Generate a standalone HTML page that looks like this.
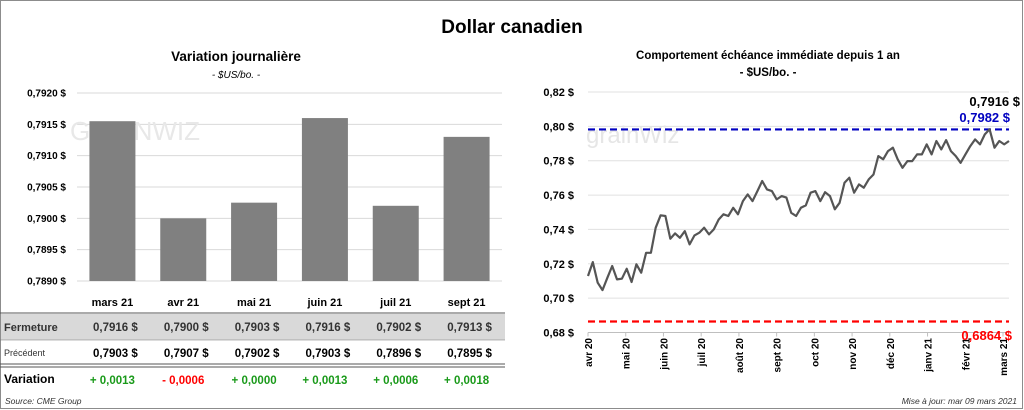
<!DOCTYPE html>
<html><head><meta charset="utf-8"><style>
body{margin:0;background:#fff}
svg{display:block;font-family:"Liberation Sans",sans-serif}
</style></head><body>
<svg id="s" width="1024" height="410" viewBox="0 0 1024 410" xmlns="http://www.w3.org/2000/svg">
<rect x="0.5" y="0.5" width="1022" height="408" fill="#fff" stroke="#8c8c8c"/>
<text x="512" y="33" text-anchor="middle" font-size="19" font-weight="bold">Dollar canadien</text>
<text x="236" y="61" text-anchor="middle" font-size="13.5" font-weight="bold">Variation  journalière</text>
<text x="236" y="78" text-anchor="middle" font-size="10" font-style="italic">- $US/bo. -</text>
<text x="768" y="59" text-anchor="middle" font-size="11.5" font-weight="bold">Comportement échéance immédiate depuis 1 an</text>
<text x="768" y="76" text-anchor="middle" font-size="11.5" font-weight="bold">- $US/bo. -</text>
<g id="left"></g>
<g id="table"></g>
<g id="right"></g>
<text x="5" y="404" font-size="8.5" font-style="italic" fill="#333">Source: CME Group</text>
<text x="1017" y="404" text-anchor="end" font-size="8.5" font-style="italic" fill="#333">Mise à jour: mar 09 mars 2021</text>
</svg>
<script>
const NS="http://www.w3.org/2000/svg";
const barCats=["mars 21","avr 21","mai 21","juin 21","juil 21","sept 21"];
const barVals=[0.79155,0.7900,0.79025,0.7916,0.7902,0.7913];
const barTicks=[0.7890,0.7895,0.7900,0.7905,0.7910,0.7915,0.7920];
const closeVals=["0,7916","0,7900","0,7903","0,7916","0,7902","0,7913"];
const prevVals=["0,7903","0,7907","0,7902","0,7903","0,7896","0,7895"];
const varVals=["+ 0,0013","- 0,0006","+ 0,0000","+ 0,0013","+ 0,0006","+ 0,0018"];
const lineVals=[0.7129,0.7210,0.7090,0.7047,0.7119,0.7187,0.7109,0.7113,0.7171,0.7094,0.7197,0.7148,0.7264,0.7264,0.7410,0.7482,0.7478,0.7346,0.7377,0.7351,0.7390,0.7313,0.7365,0.7381,0.7410,0.7371,0.7400,0.7458,0.7488,0.7478,0.7526,0.7488,0.7565,0.7604,0.7565,0.7623,0.7682,0.7633,0.7623,0.7575,0.7594,0.7585,0.7497,0.7478,0.7526,0.7540,0.7614,0.7623,0.7565,0.7617,0.7594,0.7517,0.7555,0.7672,0.7701,0.7614,0.7662,0.7643,0.7691,0.7720,0.7827,0.7808,0.7856,0.7876,0.7808,0.7759,0.7798,0.7798,0.7837,0.7837,0.7895,0.7837,0.7915,0.7866,0.7920,0.7856,0.7827,0.7788,0.7837,0.7885,0.7924,0.7895,0.7953,0.7983,0.7876,0.7915,0.7895,0.7915];
const lineTicks=[0.68,0.70,0.72,0.74,0.76,0.78,0.80,0.82];
const monthLabels=["avr 20","mai 20","juin 20","juil 20","août 20","sept 20","oct 20","nov 20","déc 20","janv 21","févr 21","mars 21"];
const highVal=0.7982, lowVal=0.6864, lastVal=0.7916;
function el(t,a,p,txt){const e=document.createElementNS(NS,t);for(const k in a)e.setAttribute(k,a[k]);if(txt!==undefined)e.textContent=txt;p.appendChild(e);return e;}
const fmt=(v,d)=>v.toFixed(d).replace('.',',')+' $';
// left chart
const L=document.getElementById('left');
const lx0=77,lx1=502,ly0=281,ly1=93;
const ly=v=>ly0+(v-0.7890)/(0.7920-0.7890)*(ly1-ly0);
const bw=(lx1-lx0)/barCats.length;
barTicks.forEach(t=>{
 const g=el('line',{x1:lx0,x2:lx1,y1:ly(t),y2:ly(t),stroke:'#d9d9d9'},L);
 
 const tx=el('text',{x:66,y:ly(t)+3.5,'text-anchor':'end','font-size':'10','font-weight':'bold'},L,fmt(t,4));
 
});
el('text',{x:70,y:140,'font-size':'26',fill:'#e8e8e8'},L,'GRAINWIZ');
barCats.forEach((c,i)=>{
 const cx=lx0+bw*(i+0.5);
 const r=el('rect',{x:cx-23,y:ly(barVals[i]),width:46,height:ly0-ly(barVals[i]),fill:'#808080'},L);
 
 const t=el('text',{x:cx,y:306,'text-anchor':'middle','font-size':'11','font-weight':'bold'},L,c);
 
});
// table
const T=document.getElementById('table');
el('line',{x1:0,x2:505,y1:313,y2:313,stroke:'#555'},T);
el('rect',{x:1,y:314,width:504,height:26,fill:'#d9d9d9'},T);
el('line',{x1:0,x2:505,y1:340,y2:340,stroke:'#777','stroke-width':0.6},T);
el('line',{x1:0,x2:505,y1:364,y2:364,stroke:'#555'},T);
el('line',{x1:0,x2:505,y1:367,y2:367,stroke:'#555'},T);
el('text',{x:4,y:331,'font-size':'11','font-weight':'bold',fill:'#333'},T,'Fermeture');
el('text',{x:4,y:356,'font-size':'9',fill:'#333'},T,'Précédent');
el('text',{x:4,y:383,'font-size':'12','font-weight':'bold'},T,'Variation');
barCats.forEach((c,i)=>{
 const cx=lx0+bw*(i+0.5);
 const a=el('text',{x:cx+3,y:331,'text-anchor':'middle','font-size':'11.5','font-weight':'bold',fill:'#333'},T,closeVals[i]+'  $');
 
 const b=el('text',{x:cx+3,y:357,'text-anchor':'middle','font-size':'11.5','font-weight':'bold'},T,prevVals[i]+'  $');
 
 const v=el('text',{x:cx,y:384,'text-anchor':'middle','font-size':'11.5','font-weight':'bold',fill:varVals[i][0]=='-'?'#ff0000':'#1a9a1a'},T,varVals[i]);
 
});
// right chart
const R=document.getElementById('right');
const rx0=588,rx1=1009,ry0=332.5,ry1=92;
const ry=v=>ry0+(v-0.68)/(0.82-0.68)*(ry1-ry0);
const rxi=i=>rx0+i/(lineVals.length-1)*(rx1-rx0);
lineTicks.forEach(t=>{
 const g=el('line',{x1:rx0,x2:rx1,y1:ry(t),y2:ry(t),stroke:t==0.68?'#bfbfbf':'#e0e0e0'},R);
 
 const tx=el('text',{x:574,y:ry(t)+4,'text-anchor':'end','font-size':'11','font-weight':'bold'},R,fmt(t,2));
 
});
el('text',{x:586,y:143,'font-size':'24',fill:'#e6e6e6'},R,'grainWiz');
monthLabels.forEach((m,i)=>{
 const x=rx0+i*(1003-rx0)/(monthLabels.length-1);
 el('line',{x1:x,x2:x,y1:ry0,y2:ry0+4,stroke:'#bfbfbf'},R);
 const t=el('text',{x:x+4,y:338,'text-anchor':'end','font-size':'10','font-weight':'bold',transform:`rotate(-90 ${x+4} 338)`},R,m);
 
});
const hl=el('line',{x1:rx0,x2:rx1,y1:ry(highVal),y2:ry(highVal),stroke:'#0000c0','stroke-width':2.2,'stroke-dasharray':'7 4'},R);

const ll=el('line',{x1:rx0,x2:rx1,y1:ry(lowVal),y2:ry(lowVal),stroke:'#ff0000','stroke-width':2.2,'stroke-dasharray':'7 4'},R);

const pl=el('polyline',{points:lineVals.map((v,i)=>rxi(i).toFixed(1)+','+ry(v).toFixed(1)).join(' '),fill:'none',stroke:'#555','stroke-width':2.2,'stroke-linejoin':'round'},R);

const a1=el('text',{x:1020,y:106,'text-anchor':'end','font-size':'13','font-weight':'bold'},R,fmt(lastVal,4));

const a2=el('text',{x:1010,y:122,'text-anchor':'end','font-size':'13','font-weight':'bold',fill:'#0000c0'},R,fmt(highVal,4));

const a3=el('text',{x:1012,y:340,'text-anchor':'end','font-size':'13','font-weight':'bold',fill:'#ff0000'},R,fmt(lowVal,4));

</script>
</body></html>
